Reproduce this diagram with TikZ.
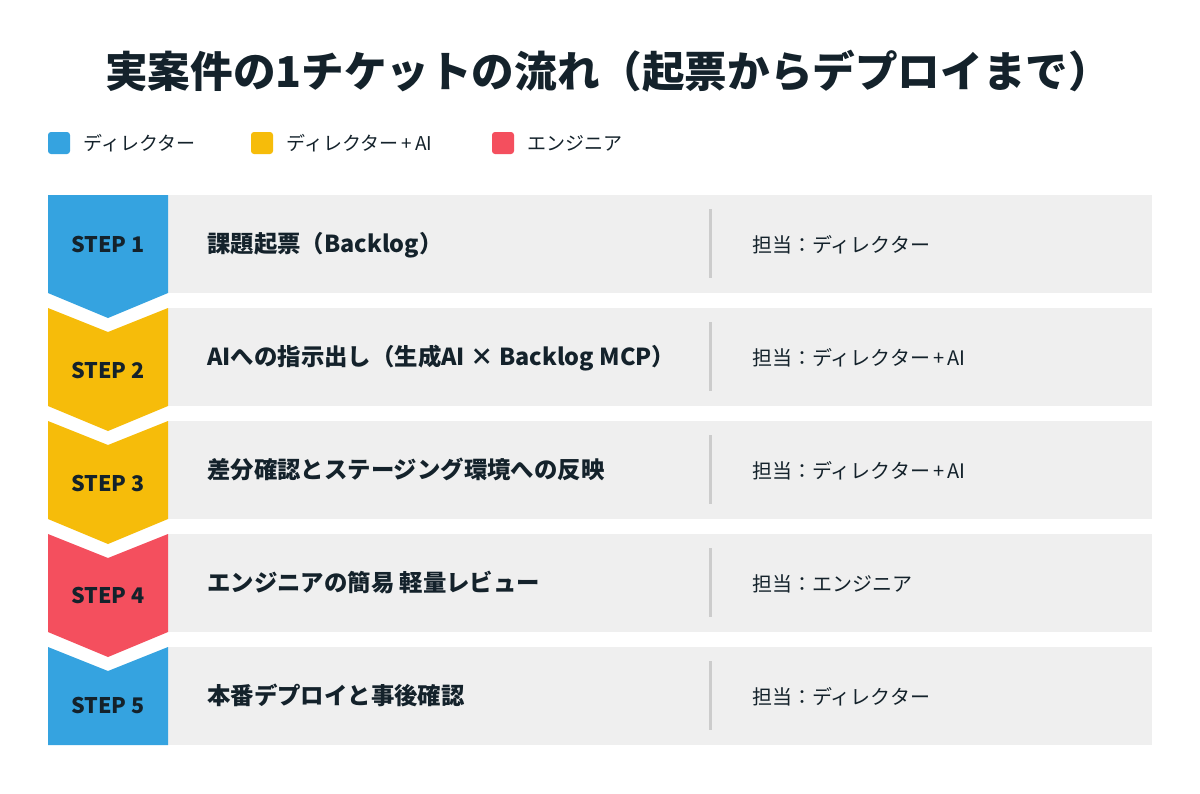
\documentclass[tikz,border=0pt]{standalone}
\usepackage{fontspec}
\setmainfont{Noto Sans CJK JP}
\usepackage{tikz}
\usetikzlibrary{positioning}
\definecolor{dirblue}{HTML}{35A3E0}
\definecolor{aiyellow}{HTML}{F6BC0A}
\definecolor{engred}{HTML}{F44F5E}
\definecolor{bargrey}{HTML}{EFEFEF}
\definecolor{divgrey}{HTML}{CCCCCC}
\definecolor{ink}{HTML}{14222B}
\tikzset{
    title/.style={
        inner sep=0pt,
        anchor=base west,
        text=ink,
        font=\bfseries\fontsize{42.6}{42.6}\selectfont,
    },
    legendkey/.style={
        rectangle,
        rounded corners=3pt,
        minimum size=22pt,
        inner sep=0pt,
    },
    legendtext/.style={
        inner sep=0pt,
        text=ink,
        font=\fontsize{19}{19}\selectfont,
    },
    steplabel/.style={
        inner sep=0pt,
        anchor=base,
        text=ink,
        font=\bfseries\fontsize{21.5}{21.5}\selectfont,
    },
    maintext/.style={
        inner sep=0pt,
        anchor=base west,
        text=ink,
        font=\bfseries\fontsize{23.4}{23.4}\selectfont,
    },
    ownertext/.style={
        inner sep=0pt,
        anchor=base west,
        text=ink,
        font=\fontsize{20}{20}\selectfont,
    },
}
\begin{document}
\begin{tikzpicture}[x=1pt, y=-1pt, node distance=13pt]
      \useasboundingbox[fill=white] (0,0) rectangle (1200,793);

      \node[title] (title) at (105,87.5) {実案件の1チケットの流れ（起票からデプロイまで）};

      % legend
      \node[legendkey, fill=dirblue] (key1) at (59,143) {};
      \node[legendtext, right=of key1] (leg1) {ディレクター};
      \node[legendkey, fill=aiyellow] (key2) at (262,143) {};
      \node[legendtext, right=of key2] (leg2) {ディレクター\,+\,AI};
      \node[legendkey, fill=engred] (key3) at (503,143) {};
      \node[legendtext, right=of key3] (leg3) {エンジニア};

      % steps
      \foreach \i/\col/\td/\bd/\lab/\main/\who in {
          1/dirblue/0/25/57/{課題起票（Backlog）}/{ディレクター},
          2/aiyellow/24/25/70/{AIへの指示出し（生成AI × Backlog MCP）}/{ディレクター\,+\,AI},
          3/aiyellow/24/25/70/{差分確認とステージング環境への反映}/{ディレクター\,+\,AI},
          4/engred/24/25/69/{エンジニアの簡易 軽量レビュー}/{エンジニア},
          5/dirblue/24/0/66/{本番デプロイと事後確認}/{ディレクター}} {
        \pgfmathsetmacro{\rowtop}{195+113*(\i-1)}
        \pgfmathsetmacro{\rowbot}{\rowtop+98}
        \fill[bargrey] (168,\rowtop) rectangle (1152,\rowbot);
        \fill[\col] (48,\rowtop) -- (108,\rowtop+\td) -- (168,\rowtop)
            -- (168,\rowbot) -- (108,\rowbot+\bd) -- (48,\rowbot) -- cycle;
        \node[steplabel] (step\i) at (108,\rowtop+\lab) {STEP \i};
        \node[maintext] (main\i) at (207,\rowtop+57) {\main};
        \draw[divgrey, line width=3pt] (710,\rowtop+14) -- (710,\rowtop+83);
        \node[ownertext] (owner\i) at (752,\rowtop+57) {担当：\who};
      }
    \end{tikzpicture}
\end{document}
